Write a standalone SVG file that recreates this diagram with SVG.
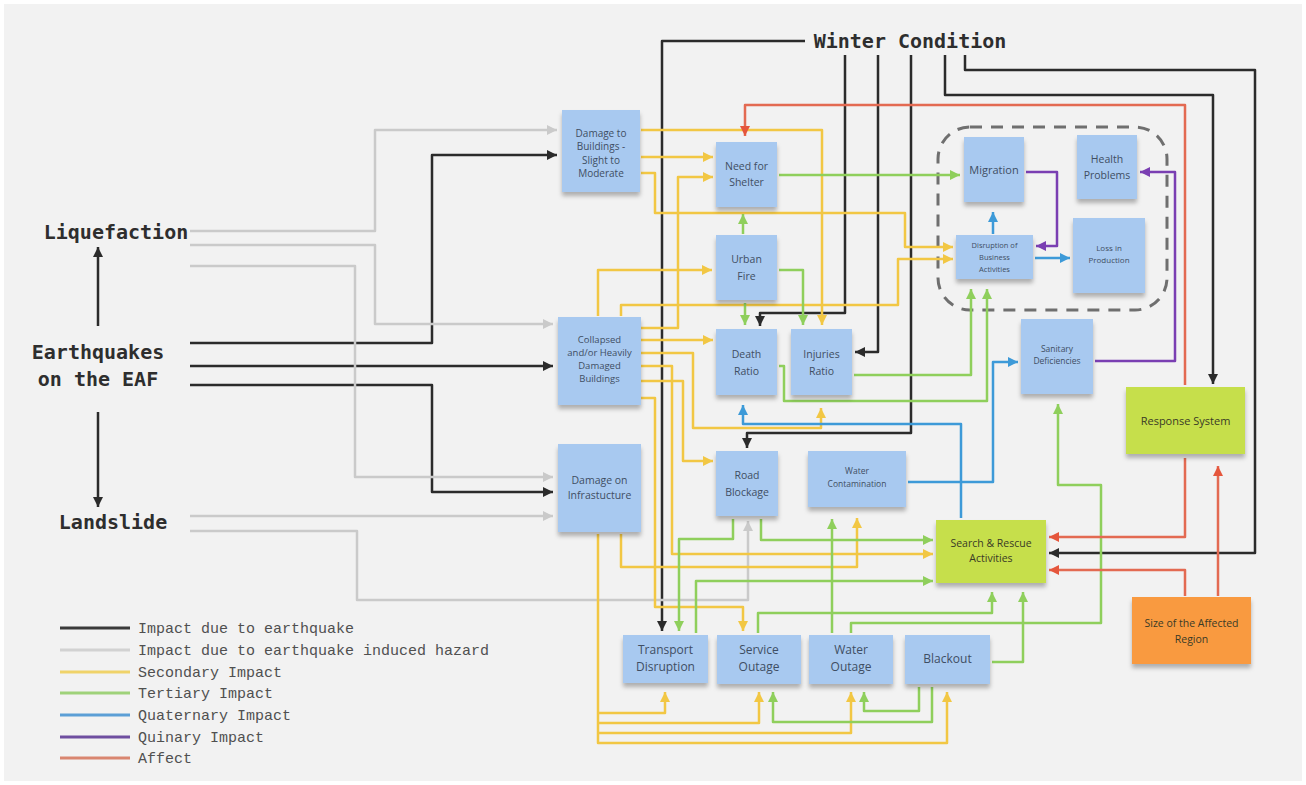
<svg xmlns="http://www.w3.org/2000/svg" width="1306" height="785" viewBox="0 0 1306 785">
  <defs>
    <style>
      .bg { fill: #f2f2f2; }
      .note { fill: #a8c9f0; filter: url(#shadow); }
      .note-green { fill: #c6df4c; filter: url(#shadow); }
      .note-orange { fill: #f99a3f; filter: url(#shadow); }
      .nt { font-family: "Open Sans", "Noto Sans", sans-serif; fill: #3f4e63; text-anchor: middle; }
      .nt-dark { font-family: "Open Sans", "Noto Sans", sans-serif; fill: #3a3a26; text-anchor: middle; }
      .title { font-family: "DejaVu Sans Mono", "Liberation Mono", monospace; font-weight: bold; font-size: 20px; fill: #2e2e2e; text-anchor: middle; }
      .legend-text { font-family: "Liberation Mono", "DejaVu Sans Mono", monospace; font-size: 15px; fill: #505050; }
      .c { fill: none; stroke-width: 2.5; stroke-linejoin: round; }
      .k { stroke: #2b2b2b; marker-end: url(#ak); }
      .g { stroke: #cacaca; marker-end: url(#ag); }
      .y { stroke: #f2c744; marker-end: url(#ay); }
      .gr { stroke: #8fcf5c; marker-end: url(#agr); }
      .b { stroke: #3d9ad8; marker-end: url(#ab); }
      .p { stroke: #7a3fb2; marker-end: url(#ap); }
      .r { stroke: #e36a52; marker-end: url(#ar); }
      .lg { stroke-width: 3; }
    </style>
    <filter id="shadow" x="-10%" y="-10%" width="120%" height="130%">
      <feDropShadow dx="0" dy="4" stdDeviation="2.2" flood-color="#000" flood-opacity="0.28"/>
    </filter>
    <marker id="ak" viewBox="0 0 10 10" refX="10" refY="5" markerWidth="10" markerHeight="10" markerUnits="userSpaceOnUse" orient="auto"><path d="M0,0 L10,5 L0,10 z" fill="#2b2b2b"/></marker>
    <marker id="ag" viewBox="0 0 10 10" refX="10" refY="5" markerWidth="10" markerHeight="10" markerUnits="userSpaceOnUse" orient="auto"><path d="M0,0 L10,5 L0,10 z" fill="#cacaca"/></marker>
    <marker id="ay" viewBox="0 0 10 10" refX="10" refY="5" markerWidth="10" markerHeight="10" markerUnits="userSpaceOnUse" orient="auto"><path d="M0,0 L10,5 L0,10 z" fill="#f2c744"/></marker>
    <marker id="agr" viewBox="0 0 10 10" refX="10" refY="5" markerWidth="10" markerHeight="10" markerUnits="userSpaceOnUse" orient="auto"><path d="M0,0 L10,5 L0,10 z" fill="#8fcf5c"/></marker>
    <marker id="ab" viewBox="0 0 10 10" refX="10" refY="5" markerWidth="10" markerHeight="10" markerUnits="userSpaceOnUse" orient="auto"><path d="M0,0 L10,5 L0,10 z" fill="#3d9ad8"/></marker>
    <marker id="ap" viewBox="0 0 10 10" refX="10" refY="5" markerWidth="10" markerHeight="10" markerUnits="userSpaceOnUse" orient="auto"><path d="M0,0 L10,5 L0,10 z" fill="#7a3fb2"/></marker>
    <marker id="ar" viewBox="0 0 10 10" refX="10" refY="5" markerWidth="10" markerHeight="10" markerUnits="userSpaceOnUse" orient="auto"><path d="M0,0 L10,5 L0,10 z" fill="#e5563c"/></marker>
  </defs>

  <rect width="1306" height="785" fill="#ffffff"/>
  <rect class="bg" x="4" y="4" width="1298" height="777"/>

  <!-- dashed cluster around the social consequences -->
  <rect id="impact-cluster" x="938" y="127" width="229" height="183" rx="32" fill="none" stroke="#6f6f6f" stroke-width="3" stroke-dasharray="12 9"/>

  <g id="connectors">
    <!-- earthquake impacts -->
    <path class="c k" d="M98,326 V247"/>
    <path class="c k" d="M98,412 V507"/>
    <path class="c k" d="M190,343 H432 V155 H557"/>
    <path class="c k" d="M190,366 H553"/>
    <path class="c k" d="M190,385 H432 V492 H553"/>
    <!-- winter condition -->
    <path class="c k" d="M805,41 H662 V631"/>
    <path class="c k" d="M845,55 V313 H760 V326"/>
    <path class="c k" d="M878,55 V352 H855"/>
    <path class="c k" d="M911,55 V433 H747 V448"/>
    <path class="c k" d="M945,55 V95 H1213 V384"/>
    <path class="c k" d="M965,55 V70 H1255 V553 H1049"/>

    <!-- induced hazards -->
    <path class="c g" d="M190,231 H375 V130 H557"/>
    <path class="c g" d="M190,245 H375 V324 H553"/>
    <path class="c g" d="M190,266 H355 V477 H553"/>
    <path class="c g" d="M190,516 H553"/>
    <path class="c g" d="M190,531 H357 V600 H748 V521"/>

    <!-- secondary -->
    <path class="c y" d="M641,130 H822 V325"/>
    <path class="c y" d="M641,157 H713"/>
    <path class="c y" d="M641,173 H655 V213 H905 V247 H953"/>
    <path class="c y" d="M598,316 V270 H712"/>
    <path class="c y" d="M621,316 V305 H898 V259 H953"/>
    <path class="c y" d="M641,328 H678 V177 H713"/>
    <path class="c y" d="M641,340 H713"/>
    <path class="c y" d="M641,353 H693 V428 H821 V408"/>
    <path class="c y" d="M641,366 H672 V554 H933"/>
    <path class="c y" d="M641,381 H683 V461 H713"/>
    <path class="c y" d="M641,398 H655 V607 H743 V631"/>
    <path class="c y" d="M621,534 V567 H857 V518"/>
    <path class="c y" d="M598,534 V743 H947 V692"/>
    <path class="c y" d="M598,713 H665 V692"/>
    <path class="c y" d="M598,723 H759 V692"/>
    <path class="c y" d="M598,733 H851 V692"/>

    <!-- tertiary -->
    <path class="c gr" d="M779,175 H960"/>
    <path class="c gr" d="M743,234 V214"/>
    <path class="c gr" d="M779,270 H803 V325"/>
    <path class="c gr" d="M745,303 V325"/>
    <path class="c gr" d="M854,375 H971 V289"/>
    <path class="c gr" d="M779,366 H784 V401 H987 V289"/>
    <path class="c gr" d="M733,519 V539 H679 V631"/>
    <path class="c gr" d="M761,519 V540 H933"/>
    <path class="c gr" d="M696,633 V581 H933"/>
    <path class="c gr" d="M758,633 V613 H992 V592"/>
    <path class="c gr" d="M832,633 V519"/>
    <path class="c gr" d="M851,633 V623 H1101 V485 H1058 V404"/>
    <path class="c gr" d="M992,662 H1023 V592"/>
    <path class="c gr" d="M919,687 V711 H864 V692"/>
    <path class="c gr" d="M932,687 V722 H773 V692"/>

    <!-- quaternary -->
    <path class="c b" d="M993,234 V212"/>
    <path class="c b" d="M1035,258 H1070"/>
    <path class="c b" d="M908,482 H993 V362 H1018"/>
    <path class="c b" d="M961,518 V424 H743 V405"/>

    <!-- quinary -->
    <path class="c p" d="M1026,172 H1057 V246 H1036"/>
    <path class="c p" d="M1095,361 H1175 V172 H1140"/>

    <!-- affect -->
    <path class="c r" d="M1185,385 V105 H745 V136"/>
    <path class="c r" d="M1185,458 V537 H1049"/>
    <path class="c r" d="M1185,596 V570 H1049"/>
    <path class="c r" d="M1218,596 V466"/>
  </g>

  <!-- hazards -->
  <g id="winter-condition"><text class="title" x="910" y="48">Winter Condition</text></g>
  <g id="liquefaction"><text class="title" x="116" y="239">Liquefaction</text></g>
  <g id="earthquakes"><text class="title" x="98" y="359">Earthquakes</text><text class="title" x="98" y="386">on the EAF</text></g>
  <g id="landslide"><text class="title" x="113" y="529">Landslide</text></g>

  <!-- impact notes -->
  <g id="damage-slight">
    <rect class="note" x="562" y="110" width="78" height="82"/>
    <text class="nt" font-size="10" x="601"><tspan x="601" y="136.5">Damage to</tspan><tspan x="601" y="150">Buildings -</tspan><tspan x="601" y="163.5">Slight to</tspan><tspan x="601" y="177">Moderate</tspan></text>
  </g>
  <g id="need-for-shelter">
    <rect class="note" x="716" y="142" width="61" height="65"/>
    <text class="nt" font-size="10.5"><tspan x="746.5" y="170">Need for</tspan><tspan x="746.5" y="186">Shelter</tspan></text>
  </g>
  <g id="urban-fire">
    <rect class="note" x="716" y="235" width="61" height="65"/>
    <text class="nt" font-size="10.5"><tspan x="746.5" y="263">Urban</tspan><tspan x="746.5" y="280">Fire</tspan></text>
  </g>
  <g id="collapsed">
    <rect class="note" x="558" y="317" width="83" height="88"/>
    <text class="nt" font-size="9.5"><tspan x="599.5" y="343">Collapsed</tspan><tspan x="599.5" y="356">and/or Heavily</tspan><tspan x="599.5" y="369">Damaged</tspan><tspan x="599.5" y="382">Buildings</tspan></text>
  </g>
  <g id="death-ratio">
    <rect class="note" x="716" y="329" width="61" height="66"/>
    <text class="nt" font-size="10.5"><tspan x="746.5" y="358">Death</tspan><tspan x="746.5" y="375">Ratio</tspan></text>
  </g>
  <g id="injuries-ratio">
    <rect class="note" x="791" y="329" width="61" height="66"/>
    <text class="nt" font-size="10.5"><tspan x="821.5" y="358">Injuries</tspan><tspan x="821.5" y="375">Ratio</tspan></text>
  </g>
  <g id="damage-infrastructure">
    <rect class="note" x="558" y="444" width="83" height="88"/>
    <text class="nt" font-size="10.5"><tspan x="599.5" y="484">Damage on</tspan><tspan x="599.5" y="499">Infrastucture</tspan></text>
  </g>
  <g id="road-blockage">
    <rect class="note" x="716" y="451" width="62" height="65"/>
    <text class="nt" font-size="10.5"><tspan x="747" y="479">Road</tspan><tspan x="747" y="496">Blockage</tspan></text>
  </g>
  <g id="water-contamination">
    <rect class="note" x="808" y="451" width="98" height="56"/>
    <text class="nt" font-size="8.5"><tspan x="857" y="474">Water</tspan><tspan x="857" y="487">Contamination</tspan></text>
  </g>
  <g id="search-rescue">
    <rect class="note-green" x="936" y="520" width="110" height="63"/>
    <text class="nt-dark" font-size="10.5"><tspan x="991" y="547">Search &amp; Rescue</tspan><tspan x="991" y="562">Activities</tspan></text>
  </g>
  <g id="transport-disruption">
    <rect class="note" x="623" y="635" width="85" height="48"/>
    <text class="nt" font-size="12"><tspan x="665.5" y="654">Transport</tspan><tspan x="665.5" y="671">Disruption</tspan></text>
  </g>
  <g id="service-outage">
    <rect class="note" x="717" y="635" width="84" height="49"/>
    <text class="nt" font-size="12"><tspan x="759" y="654">Service</tspan><tspan x="759" y="671">Outage</tspan></text>
  </g>
  <g id="water-outage">
    <rect class="note" x="809" y="635" width="84" height="49"/>
    <text class="nt" font-size="12"><tspan x="851" y="654">Water</tspan><tspan x="851" y="671">Outage</tspan></text>
  </g>
  <g id="blackout">
    <rect class="note" x="905" y="635" width="85" height="49"/>
    <text class="nt" font-size="12" x="947.5" y="663">Blackout</text>
  </g>
  <g id="migration">
    <rect class="note" x="964" y="137" width="60" height="65"/>
    <text class="nt" font-size="11" x="994" y="174">Migration</text>
  </g>
  <g id="health-problems">
    <rect class="note" x="1077" y="135" width="60" height="64"/>
    <text class="nt" font-size="10.5"><tspan x="1107" y="163">Health</tspan><tspan x="1107" y="179">Problems</tspan></text>
  </g>
  <g id="business-disruption">
    <rect class="note" x="956" y="235" width="77" height="44"/>
    <text class="nt" font-size="7.5"><tspan x="994.5" y="248">Disruption of</tspan><tspan x="994.5" y="260">Business</tspan><tspan x="994.5" y="272">Activities</tspan></text>
  </g>
  <g id="loss-in-production">
    <rect class="note" x="1073" y="218" width="72" height="75"/>
    <text class="nt" font-size="8"><tspan x="1109" y="251">Loss in</tspan><tspan x="1109" y="263">Production</tspan></text>
  </g>
  <g id="sanitary-deficiencies">
    <rect class="note" x="1021" y="319" width="72" height="75"/>
    <text class="nt" font-size="8.5"><tspan x="1057" y="352">Sanitary</tspan><tspan x="1057" y="364">Deficiencies</tspan></text>
  </g>
  <g id="response-system">
    <rect class="note-green" x="1126" y="387" width="119" height="67"/>
    <text class="nt-dark" font-size="11" x="1185.5" y="425">Response System</text>
  </g>
  <g id="affected-region-size">
    <rect class="note-orange" x="1132" y="597" width="119" height="67"/>
    <text class="nt-dark" font-size="10.5"><tspan x="1191.5" y="627">Size of the Affected</tspan><tspan x="1191.5" y="643">Region</tspan></text>
  </g>

  <!-- legend -->
  <g id="legend">
    <line class="lg" x1="60" y1="628" x2="130" y2="628" stroke="#3a3a3a"/>
    <line class="lg" x1="60" y1="650" x2="130" y2="650" stroke="#d2d2d2"/>
    <line class="lg" x1="60" y1="672" x2="130" y2="672" stroke="#f0d36a"/>
    <line class="lg" x1="60" y1="693" x2="130" y2="693" stroke="#9fd27a"/>
    <line class="lg" x1="60" y1="715" x2="130" y2="715" stroke="#5c9fd6"/>
    <line class="lg" x1="60" y1="737" x2="130" y2="737" stroke="#6f4fa0"/>
    <line class="lg" x1="60" y1="758" x2="130" y2="758" stroke="#d98670"/>
    <text class="legend-text" x="138" y="633">Impact due to earthquake</text>
    <text class="legend-text" x="138" y="655">Impact due to earthquake induced hazard</text>
    <text class="legend-text" x="138" y="677">Secondary Impact</text>
    <text class="legend-text" x="138" y="698">Tertiary Impact</text>
    <text class="legend-text" x="138" y="720">Quaternary Impact</text>
    <text class="legend-text" x="138" y="742">Quinary Impact</text>
    <text class="legend-text" x="138" y="763">Affect</text>
  </g>
</svg>
